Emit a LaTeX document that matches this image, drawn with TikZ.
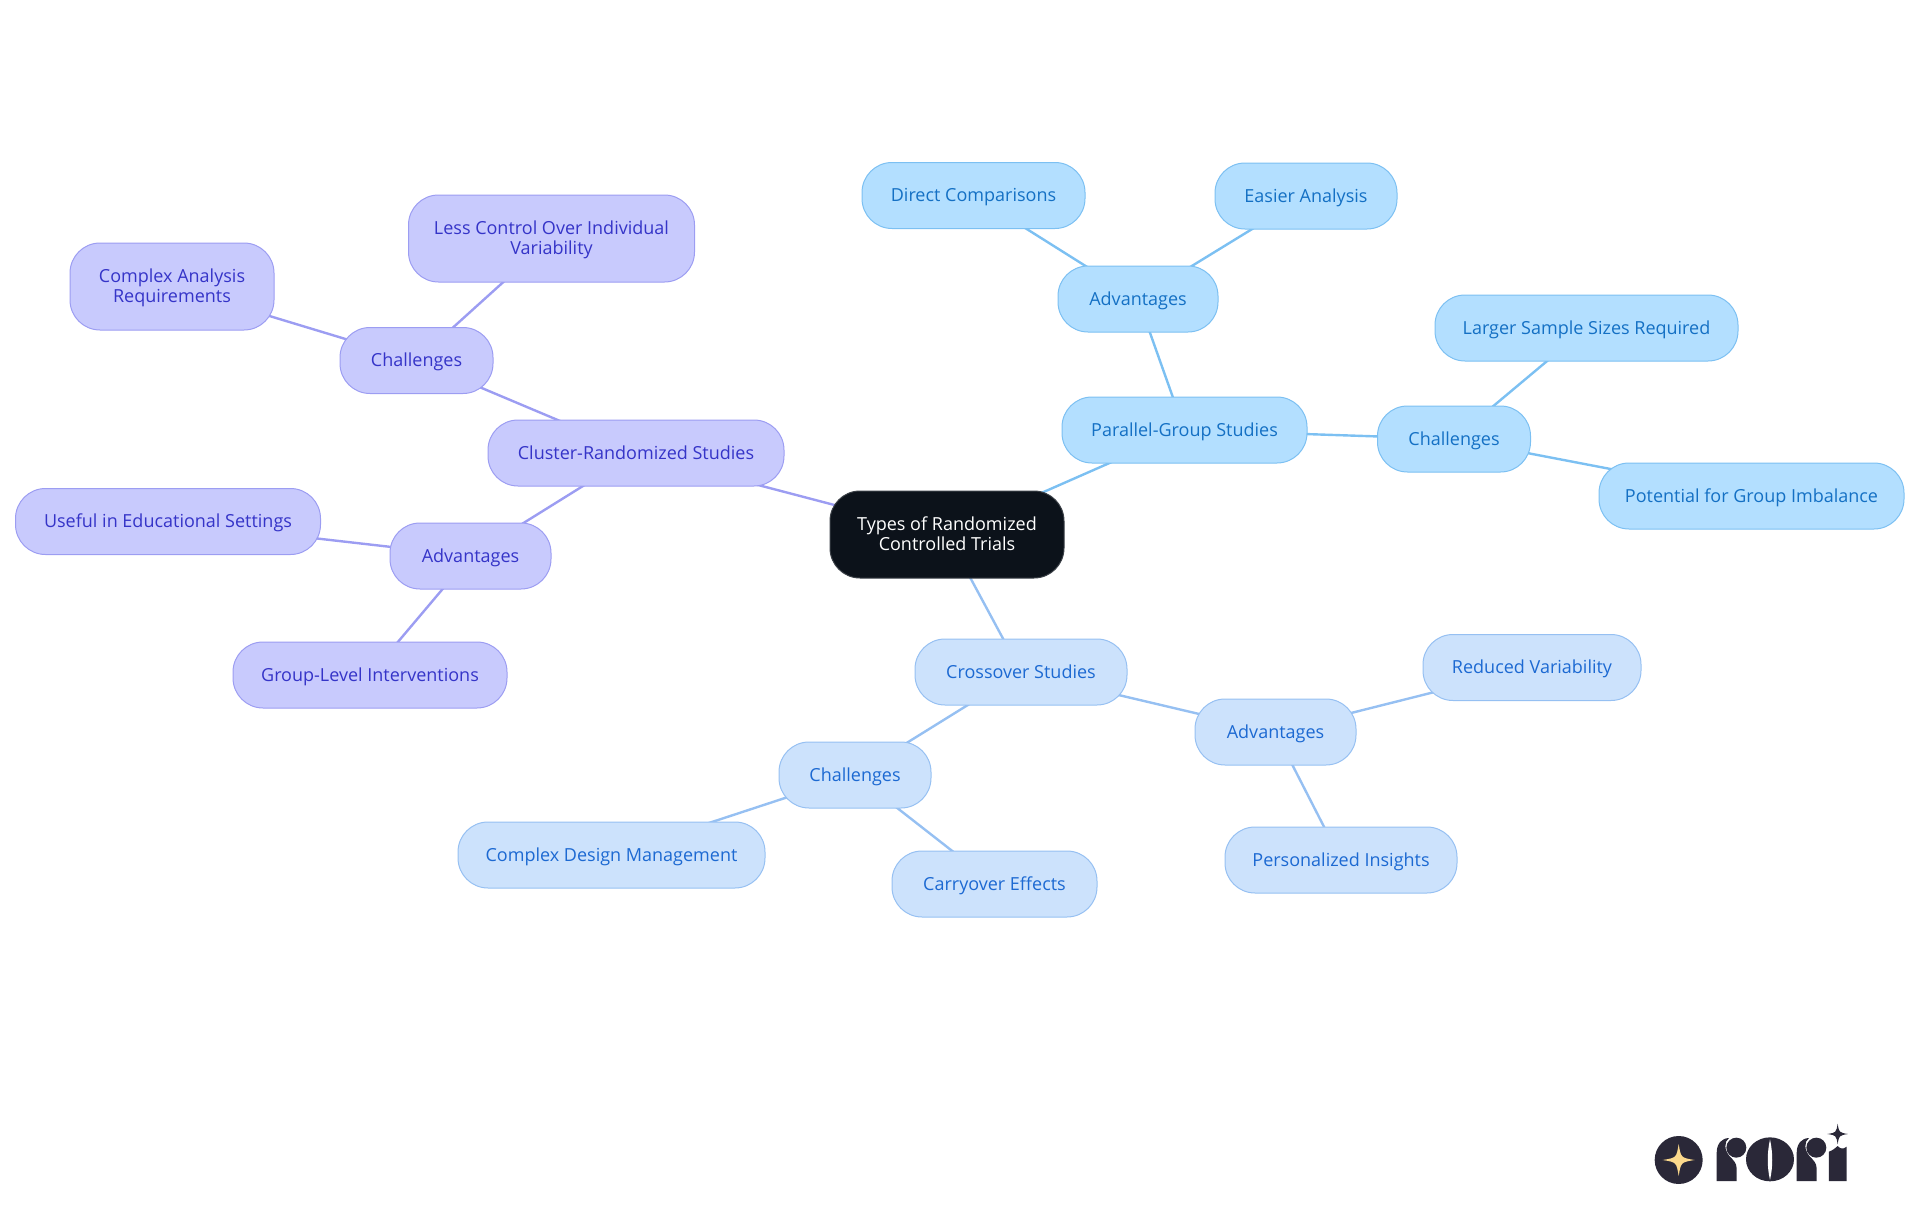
\documentclass[tikz,border=0pt]{standalone}
\usepackage{fontspec}
\setmainfont{Open Sans}
\usetikzlibrary{backgrounds}
\definecolor{pfill}{HTML}{B3DFFF}\definecolor{pline}{HTML}{7CC0F2}\definecolor{ptext}{HTML}{1470C4}
\definecolor{cfill}{HTML}{CCE2FC}\definecolor{cline}{HTML}{96C0F2}\definecolor{ctext}{HTML}{1C69D2}
\definecolor{kfill}{HTML}{C8CAFD}\definecolor{kline}{HTML}{9C9DF2}\definecolor{ktext}{HTML}{3534C8}
\definecolor{logoink}{HTML}{2A2838}\definecolor{logostar}{HTML}{FBD98C}
\definecolor{rootblack}{HTML}{0C121A}\definecolor{rootedge}{HTML}{3A3F46}
\tikzset{
 x=1pt,y=-1pt,
 box/.style={rectangle,rounded corners=30pt,line width=1pt,inner sep=0pt,align=center,font=\fontsize{18}{19.8}\selectfont},
 one/.style={text height=15pt,text depth=3pt},
 parbox/.style={box,fill=pfill,draw=pline,text=ptext},
 crossbox/.style={box,fill=cfill,draw=cline,text=ctext},
 clusbox/.style={box,fill=kfill,draw=kline,text=ktext},
 rootbox/.style={box,fill=rootblack,draw=rootedge,text=white},
 parlink/.style={draw=pline,line width=2.4pt},
 crosslink/.style={draw=cline,line width=2.4pt},
 cluslink/.style={draw=kline,line width=2.4pt},
}
\newcommand{\toppad}{\rule{0pt}{16pt}}
\newcommand{\botpad}{\rule[-2.5pt]{0pt}{1pt}}
\newcommand{\fourstar}[4]{\fill[#4] (#1,#2-#3) .. controls (#1+0.14*#3,#2-0.14*#3) .. (#1+#3,#2) .. controls (#1+0.14*#3,#2+0.14*#3) .. (#1,#2+#3) .. controls (#1-0.14*#3,#2+0.14*#3) .. (#1-#3,#2) .. controls (#1-0.14*#3,#2-0.14*#3) .. cycle;}
\begin{document}
\begin{tikzpicture}
\useasboundingbox (0,0) rectangle (1920,1215);
\node[rootbox,minimum width=234,minimum height=87] (root) at (947,534.5) {Types of Randomized\\Controlled Trials\botpad};
% parallel
\node[parbox,one,minimum width=245,minimum height=66] (par) at (1184.5,430) {Parallel-Group Studies};
\node[parbox,one,minimum width=160,minimum height=66] (padv) at (1138,299) {Advantages};
\node[parbox,one,minimum width=223,minimum height=66] (pdir) at (973.5,195.5) {Direct Comparisons};
\node[parbox,one,minimum width=182,minimum height=66] (peas) at (1306,196) {Easier Analysis};
\node[parbox,one,minimum width=153,minimum height=66] (pcha) at (1454,439) {Challenges};
\node[parbox,one,minimum width=303,minimum height=66] (plar) at (1586.5,328) {Larger Sample Sizes Required};
\node[parbox,one,minimum width=305,minimum height=66] (ppot) at (1751.5,496) {Potential for Group Imbalance};
% crossover
\node[crossbox,one,minimum width=212,minimum height=66] (cro) at (1021,672) {Crossover Studies};
\node[crossbox,one,minimum width=161,minimum height=66] (cadv) at (1275.5,732) {Advantages};
\node[crossbox,one,minimum width=218,minimum height=66] (cred) at (1532,667.5) {Reduced Variability};
\node[crossbox,one,minimum width=232,minimum height=66] (cper) at (1341,860) {Personalized Insights};
\node[crossbox,one,minimum width=152,minimum height=66] (ccha) at (855,775) {Challenges};
\node[crossbox,one,minimum width=307,minimum height=66] (cdes) at (611.5,855) {Complex Design Management};
\node[crossbox,one,minimum width=205,minimum height=66] (ccar) at (994.5,884) {Carryover Effects};
% cluster
\node[clusbox,one,minimum width=296,minimum height=66] (clu) at (636,453) {Cluster-Randomized Studies};
\node[clusbox,one,minimum width=153,minimum height=66] (kcha) at (416.5,360.5) {Challenges};
\node[clusbox,minimum width=286,minimum height=87] (kles) at (551.5,238.5) {\toppad Less Control Over Individual\\Variability};
\node[clusbox,minimum width=204,minimum height=87] (kcom) at (172,286.5) {\toppad Complex Analysis\\Requirements};
\node[clusbox,one,minimum width=161,minimum height=66] (kadv) at (470.5,556) {Advantages};
\node[clusbox,one,minimum width=305,minimum height=66] (kuse) at (168,521.5) {Useful in Educational Settings};
\node[clusbox,one,minimum width=274,minimum height=66] (kgro) at (370,675) {Group-Level Interventions};
\begin{scope}[on background layer]
\draw[parlink] (root.center)--(par.center) (par.center)--(padv.center) (padv.center)--(pdir.center) (padv.center)--(peas.center) (par.center)--(pcha.center) (pcha.center)--(plar.center) (pcha.center)--(ppot.center);
\draw[crosslink] (root.center)--(cro.center) (cro.center)--(cadv.center) (cadv.center)--(cred.center) (cadv.center)--(cper.center) (cro.center)--(ccha.center) (ccha.center)--(cdes.center) (ccha.center)--(ccar.center);
\draw[cluslink] (root.center)--(clu.center) (clu.center)--(kcha.center) (kcha.center)--(kles.center) (kcha.center)--(kcom.center) (clu.center)--(kadv.center) (kadv.center)--(kuse.center) (kadv.center)--(kgro.center);
\end{scope}
% logo
\begin{scope}[shift={(1620,1100)},x=0.3333pt,y=-0.3333pt]
\fill[logoink] (176,180) circle (72);
\fourstar{176}{180}{48}{logostar}
\fill[logoink] (290,243) -- (290,160) .. controls (290,130) and (305,115) .. (327,114) .. controls (312,125) and (312,150) .. (330,170) .. controls (340,180) and (350,190) .. (350,205) -- (350,243) -- cycle;
\fill[logoink] (349,143) circle (30);
\fill[logoink] (450,178) ellipse (72 and 66);
\fill[white] (450,118) .. controls (441,160) and (441,200) .. (450,240) .. controls (459,200) and (459,160) .. (450,118) -- cycle;
\fill[logoink] (530,243) -- (530,160) .. controls (530,130) and (545,115) .. (567,114) .. controls (552,125) and (552,150) .. (570,170) .. controls (580,180) and (590,190) .. (590,205) -- (590,243) -- cycle;
\fill[logoink] (589,143) circle (30);
\fill[logoink] (627,243) -- (627,155) .. controls (640,150) and (645,145) .. (653,138) .. controls (660,145) and (668,150) .. (680,140) -- (680,243) -- cycle;
\fourstar{653}{102}{31}{logoink}
\end{scope}
\end{tikzpicture}
\end{document}
